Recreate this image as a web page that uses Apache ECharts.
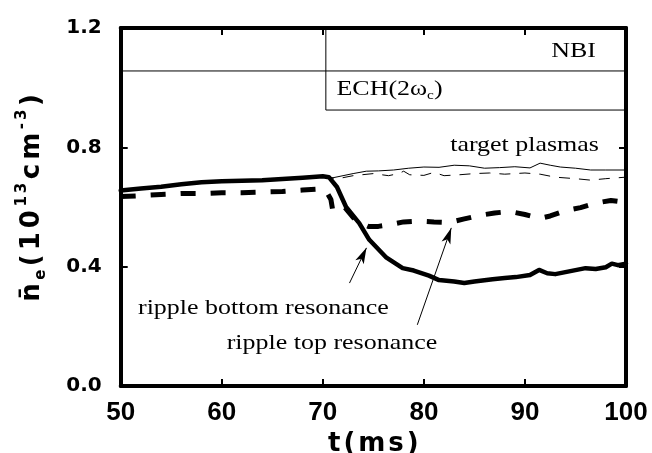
<!DOCTYPE html>
<html>
<head>
<meta charset="utf-8">
<script src="https://cdn.jsdelivr.net/npm/echarts@6/dist/echarts.min.js"></script>
<style>
  html, body { margin: 0; padding: 0; background: #ffffff; }
  #chart { width: 652px; height: 453px; }
</style>
</head>
<body>
<div id="chart"></div>
<script>
// Axis ranges and ticks
const xMin = 50, xMax = 100, xStep = 10;
const yMin = 0, yMax = 1.2, yStep = 0.4;

// Heating windows: NBI over the whole shot, ECH switched on at ~70.3 ms
const nbiLevel = 1.056;
const echStart = 70.3;
const echLevel = 0.925;

// Line-averaged density, ripple bottom resonance (thick solid)
const bottomT = [50, 52, 54, 56, 58, 60, 62, 64, 66, 68, 70, 70.6, 71.4, 72.3, 73.6, 74.6, 76.3, 77.9, 79, 80.5, 81.5, 83, 84, 85, 86.8, 88, 89.1, 90.5, 91.4, 92.2, 93, 94.5, 96, 97, 98, 98.6, 99.2, 100];
const bottomN = [0.655, 0.662, 0.668, 0.676, 0.683, 0.686, 0.688, 0.690, 0.694, 0.698, 0.703, 0.700, 0.667, 0.600, 0.546, 0.490, 0.430, 0.395, 0.387, 0.370, 0.355, 0.350, 0.345, 0.350, 0.358, 0.362, 0.365, 0.372, 0.389, 0.378, 0.375, 0.385, 0.395, 0.392, 0.398, 0.410, 0.405, 0.410];

// Ripple top resonance (thick dashed)
const topT = [50, 52, 54, 56, 58, 60, 62, 64, 66, 68, 69.5, 70.3, 70.8, 71.0, 71.5, 72.2, 73, 73.8, 74.5, 75.5, 76.5, 78, 79.5, 81, 82.5, 84, 85.5, 87, 88.5, 90, 91.5, 92.5, 94, 95.5, 97, 98.5, 100];
const topN = [0.635, 0.638, 0.642, 0.645, 0.645, 0.648, 0.648, 0.650, 0.652, 0.657, 0.660, 0.655, 0.625, 0.585, 0.590, 0.598, 0.565, 0.545, 0.535, 0.535, 0.540, 0.550, 0.553, 0.550, 0.548, 0.560, 0.572, 0.580, 0.585, 0.575, 0.562, 0.570, 0.588, 0.598, 0.613, 0.622, 0.615];

// Target plasmas without ECH (thin solid / thin dashed)
const targetAT = [70, 71, 72, 73, 74.3, 75.5, 77, 78.5, 80, 81.5, 83, 84.5, 86, 87.5, 89, 90.5, 91.5, 92.5, 93.5, 95, 96.5, 98, 100];
const targetAN = [0.703, 0.698, 0.705, 0.712, 0.720, 0.721, 0.724, 0.730, 0.734, 0.733, 0.740, 0.738, 0.730, 0.732, 0.735, 0.731, 0.747, 0.740, 0.734, 0.730, 0.724, 0.724, 0.724];
const targetBT = [70, 71.5, 73, 75, 76.5, 77.5, 78, 78.6, 80, 81, 82, 83.5, 85, 86.5, 88, 90, 91.5, 93, 95, 96.5, 98, 100];
const targetBN = [0.700, 0.695, 0.705, 0.712, 0.705, 0.712, 0.720, 0.708, 0.706, 0.716, 0.705, 0.708, 0.712, 0.714, 0.710, 0.714, 0.710, 0.700, 0.695, 0.690, 0.695, 0.700];

// Arrows from the captions to the curves: [tail, head] in (t, n) units
const arrowBottom = [[72.64, 0.345], [74.32, 0.463]];
const arrowTop = [[79.35, 0.205], [82.71, 0.530]];

const zip = (ts, ns) => ts.map((t, i) => [t, ns[i]]);

// Spread a string into single-character rich tokens of one style
const spaced = (s, style) => Array.from(s).map(ch => `{${style}|${ch}}`).join('');

const chart = echarts.init(document.getElementById('chart'), null, { renderer: 'canvas' });

const makeAxisLine = () => ({ show: true, onZero: false, lineStyle: { color: '#000', width: 4 } });
const makeAxisTick = () => ({ show: true, inside: true, length: 7, lineStyle: { color: '#000', width: 2 } });

const arrowStyle = {
  silent: true,
  symbol: ['none', 'arrow'],
  symbolSize: [7, 16],
  label: { show: false },
  lineStyle: { color: '#000', width: 1, type: 'solid' },
  animation: false
};

chart.setOption({
  animation: false,
  backgroundColor: '#ffffff',
  grid: { left: 120.7, right: 26, top: 28, bottom: 67, containLabel: false, outerBoundsMode: 'none' },
  xAxis: [
    {
      type: 'value', min: xMin, max: xMax, interval: xStep, position: 'bottom',
      axisLine: makeAxisLine(), axisTick: makeAxisTick(), splitLine: { show: false },
      axisLabel: { margin: 14, color: '#000', fontFamily: 'Liberation Sans', fontWeight: 'bold', fontSize: 26 },
      name: spaced('t(ms)', 'c'), nameLocation: 'middle', nameGap: 31,
      nameTextStyle: {
        color: '#000', fontFamily: 'DejaVu Sans', fontWeight: 'bold', fontSize: 26,
        rich: { c: { fontFamily: 'DejaVu Sans', fontWeight: 'bold', fontSize: 26, padding: [0, 1.5, 0, 1.5], color: '#000' } }
      }
    },
    {
      type: 'value', min: xMin, max: xMax, interval: xStep, position: 'top',
      axisLine: makeAxisLine(), axisTick: makeAxisTick(), splitLine: { show: false }, axisLabel: { show: false }
    }
  ],
  yAxis: [
    {
      type: 'value', min: yMin, max: yMax, interval: yStep, position: 'left',
      axisLine: makeAxisLine(), axisTick: makeAxisTick(), splitLine: { show: false },
      axisLabel: {
        margin: 19, color: '#000', fontFamily: 'DejaVu Sans', fontWeight: 'bold', fontSize: 20,
        formatter: v => v.toFixed(1)
      }
    },
    {
      type: 'value', min: yMin, max: yMax, interval: yStep, position: 'right',
      axisLine: makeAxisLine(), axisTick: makeAxisTick(), splitLine: { show: false }, axisLabel: { show: false }
    }
  ],
  series: [
    {
      name: 'NBI', type: 'line', silent: true, symbol: 'none',
      data: [[xMin, nbiLevel], [xMax, nbiLevel]],
      lineStyle: { color: '#000', width: 1 }
    },
    {
      name: 'ECH', type: 'line', silent: true, symbol: 'none',
      data: [[echStart, yMax], [echStart, echLevel], [xMax, echLevel]],
      lineStyle: { color: '#000', width: 1 }
    },
    {
      name: 'target A', type: 'line', silent: true, symbol: 'none',
      data: zip(targetAT, targetAN),
      lineStyle: { color: '#000', width: 1 }
    },
    {
      name: 'target B', type: 'line', silent: true, symbol: 'none',
      data: zip(targetBT, targetBN),
      lineStyle: { color: '#000', width: 1, type: [11, 9] }
    },
    {
      name: 'ripple top resonance', type: 'line', silent: true, symbol: 'none',
      data: zip(topT, topN),
      lineStyle: { color: '#000', width: 5, type: [15, 15], cap: 'butt' },
      markLine: Object.assign({}, arrowStyle, {
        data: [[{ coord: arrowTop[0] }, { coord: arrowTop[1] }]]
      })
    },
    {
      name: 'ripple bottom resonance', type: 'line', silent: true, symbol: 'none',
      data: zip(bottomT, bottomN),
      lineStyle: { color: '#000', width: 4.5, join: 'round', cap: 'round' },
      markLine: Object.assign({}, arrowStyle, {
        data: [[{ coord: arrowBottom[0] }, { coord: arrowBottom[1] }]]
      })
    }
  ]
});

// Text annotations anchored in data units, placed through the axis scales
const serif = 'Liberation Serif';
const notes = [
  { text: 'NBI', at: [97.02, 1.123], align: 'right' },
  { text: 'ECH(2ω{sub|c})', at: [71.35, 0.996], align: 'left' },
  { text: 'target plasmas', at: [97.32, 0.808], align: 'right' },
  { text: 'ripple bottom resonance', at: [51.71, 0.261], align: 'left' },
  { text: 'ripple top resonance', at: [60.49, 0.144], align: 'left' }
];

const graphics = notes.map(n => {
  const p = chart.convertToPixel({ gridIndex: 0 }, n.at);
  return {
    type: 'text', x: p[0], y: p[1], scaleX: 1.18, silent: true,
    style: {
      text: n.text, fill: '#000', align: n.align, verticalAlign: 'middle',
      fontFamily: serif, fontSize: 22, lineHeight: 26,
      rich: { sub: { fontFamily: serif, fontSize: 13, verticalAlign: 'bottom', fill: '#000' } }
    }
  };
});

// Vertical axis title: line-averaged electron density
const ms = { fontFamily: 'DejaVu Sans', fontWeight: 'bold', fontSize: 26, lineHeight: 34, fill: '#000', padding: [0, 2, 0, 2] };
const ss = { fontFamily: 'DejaVu Sans', fontWeight: 'bold', fontSize: 15, fill: '#000', padding: [0, 1.5, 0, 1.5] };
graphics.push({
  type: 'text', x: 32, y: 198, rotation: Math.PI / 2, silent: true,
  style: {
    text: '{m|n\u0304}' + spaced('e', 'sub') + spaced('(10', 'm') + spaced('13', 'sup') +
          spaced('cm', 'm') + spaced('-3', 'sup') + '{m|)}',
    align: 'center', verticalAlign: 'middle',
    rich: {
      m: ms,
      sub: Object.assign({}, ss, { verticalAlign: 'bottom' }),
      sup: Object.assign({}, ss, { verticalAlign: 'top' })
    }
  }
});

chart.setOption({ graphic: graphics });
</script>
</body>
</html>
